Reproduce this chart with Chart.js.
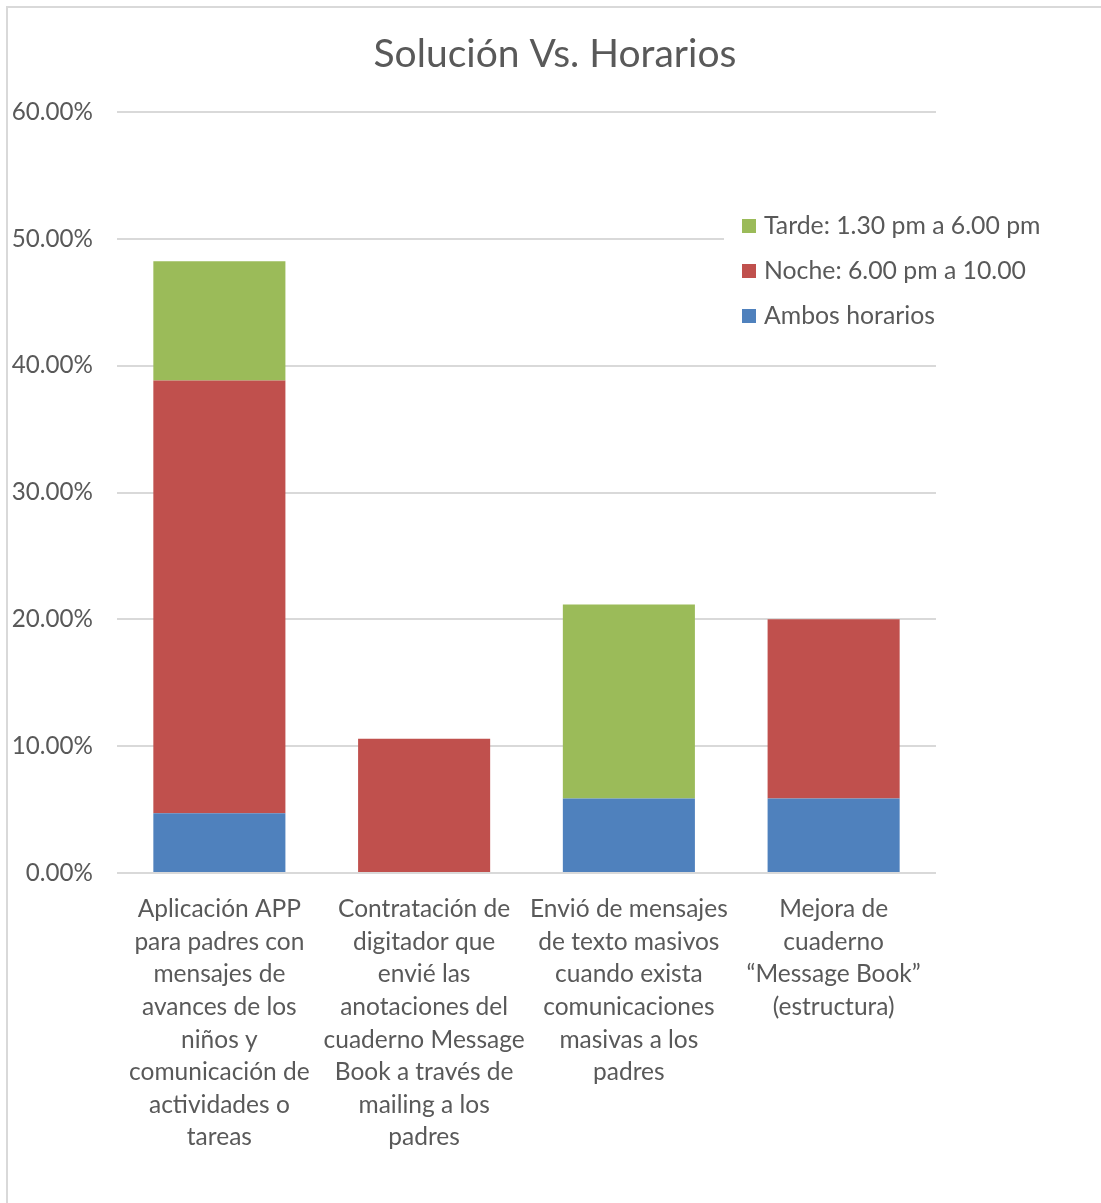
<!DOCTYPE html>
<html lang="es">
<head>
    <meta charset="UTF-8">
    <title>Solución Vs. Horarios</title>
    <script src="https://cdn.jsdelivr.net/npm/chart.js"></script>
    <style>
        html, body { margin: 0; padding: 0; background: #fff; }
        #wrap { width: 1101px; height: 1203px; position: relative; }
    </style>
</head>
<body>
<div id="wrap"><canvas id="chart" width="1101" height="1203"></canvas></div>
<script>
    // datos (porcentajes)
    const categories = [
        ['Aplicación APP', 'para padres con', 'mensajes de', 'avances de los', 'niños y', 'comunicación de', 'actividades o', 'tareas'],
        ['Contratación de', 'digitador que', 'envié las', 'anotaciones del', 'cuaderno Message', 'Book a través de', 'mailing a los', 'padres'],
        ['Envió de mensajes', 'de texto masivos', 'cuando exista', 'comunicaciones', 'masivas a los', 'padres'],
        ['Mejora de', 'cuaderno', '“Message Book”', '(estructura)']
    ];
    const ambos = [4.71, 0, 5.88, 5.88];
    const noche = [34.12, 10.59, 0, 14.12];
    const tarde = [9.41, 0, 15.29, 0];
    const seriesNames = ['Ambos horarios', 'Noche: 6.00 pm a 10.00', 'Tarde: 1.30 pm a 6.00 pm'];
    const seriesColors = ['#4f81bd', '#c0504d', '#9bbb59'];
    const chartTitle = 'Solución Vs. Horarios';

    const FONT = 'Lato, "Open Sans", sans-serif';
    const TEXT = '#595959';

    // borde y titulo (centrado en todo el lienzo, como en Excel)
    const frame = {
        id: 'frame',
        beforeDraw(chart) {
            const c = chart.ctx;
            c.save();
            c.fillStyle = '#fff';
            c.fillRect(0, 0, chart.width, chart.height);
            c.strokeStyle = '#d9d9d9';
            c.lineWidth = 2;
            c.beginPath();
            c.moveTo(7, chart.height);
            c.lineTo(7, 7);
            c.lineTo(chart.width, 7);
            c.stroke();
            c.fillStyle = TEXT;
            c.font = '39px ' + FONT;
            c.textAlign = 'center';
            c.textBaseline = 'middle';
            c.fillText(chartTitle, 555, 54);
            c.restore();
        }
    };

    // leyenda encima del area del grafico (orden invertido como Excel)
    const overLegend = {
        id: 'overLegend',
        afterDatasetsDraw(chart) {
            const c = chart.ctx;
            c.save();
            c.fillStyle = '#fff';
            c.fillRect(724, 200, 377, 135);
            c.font = '24.8px ' + FONT;
            c.textBaseline = 'middle';
            const items = chart.data.datasets.slice().reverse();
            items.forEach((ds, i) => {
                const y = 226 + i * 45;
                c.fillStyle = ds.backgroundColor;
                c.fillRect(742, y - 7, 14, 14);
                c.fillStyle = TEXT;
                c.fillText(ds.label, 764, y);
            });
            c.restore();
        }
    };

    new Chart(document.getElementById('chart').getContext('2d'), {
        type: 'bar',
        data: {
            labels: categories,
            datasets: [
                { label: seriesNames[0], data: ambos, backgroundColor: seriesColors[0] },
                { label: seriesNames[1], data: noche, backgroundColor: seriesColors[1] },
                { label: seriesNames[2], data: tarde, backgroundColor: seriesColors[2] }
            ]
        },
        options: {
            responsive: false,
            animation: false,
            layout: { padding: { left: 10, right: 165, top: 112, bottom: 0 } },
            datasets: { bar: { categoryPercentage: 1, barPercentage: 0.645 } },
            plugins: {
                legend: { display: false },
                tooltip: { enabled: false },
                title: { display: false }
            },
            scales: {
                x: {
                    stacked: true,
                    grid: { display: false },
                    border: { display: false },
                    ticks: {
                        color: TEXT,
                        maxRotation: 0,
                        autoSkip: false,
                        padding: 12,
                        font: { family: FONT, size: 24.5, lineHeight: 1.33 }
                    },
                    afterFit(scale) { scale.height = 1203 - 873; }
                },
                y: {
                    stacked: true,
                    min: 0,
                    max: 60,
                    border: { display: false },
                    grid: { color: '#d9d9d9', lineWidth: 2, drawTicks: false },
                    ticks: {
                        stepSize: 10,
                        color: TEXT,
                        padding: 24,
                        font: { family: FONT, size: 24.2 },
                        callback: v => v.toFixed(2) + '%'
                    },
                    afterFit(scale) { scale.width = 107; }
                }
            }
        },
        plugins: [frame, overLegend]
    });
</script>
</body>
</html>
